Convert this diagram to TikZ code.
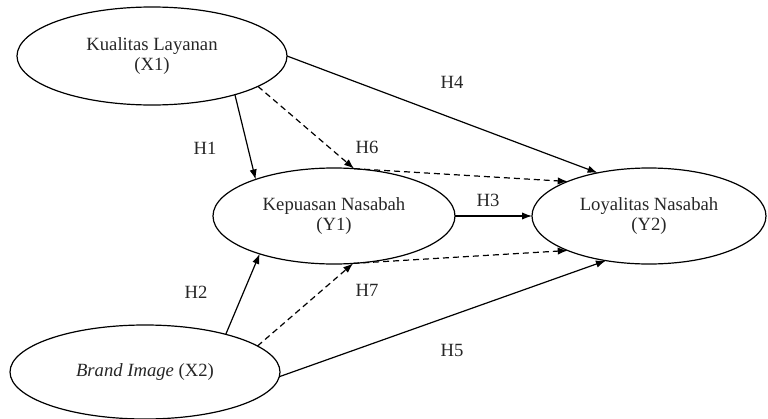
\documentclass[tikz,border=0pt]{standalone}
\usepackage{fontspec}
\setmainfont{Liberation Serif}
\usetikzlibrary{shapes.geometric,arrows.meta}

\tikzset{every picture/.style={line width=0.9pt}}
\tikzset{
  konstruk/.style={draw, ellipse, inner sep=0pt, outer sep=0pt, align=center,
    font=\fontsize{14}{15.5}\selectfont, text=black!85},
  hipotesis/.style={inner sep=0.75pt, font=\fontsize{14}{15.5}\selectfont, text=black!85},
  panah/.style={-{Latex[length=7.5pt,width=5.5pt]}},
  panahputus/.style={panah, dash pattern=on 4.5pt off 3pt}
}

\begin{document}
\begin{tikzpicture}[x=0.75pt,y=0.75pt,yscale=-1,xscale=1]
	\useasboundingbox (0,0) rectangle (768,418);
	
	%Shape: Ellipse
	\node [konstruk, minimum width=202.5pt, minimum height=73.5pt] (kl) at (152,56) {Kualitas Layanan\\(X1)};
	%Shape: Ellipse
	\node [konstruk, minimum width=181.5pt, minimum height=72pt] (kn) at (334,216) {Kepuasan Nasabah\\(Y1)};
	%Shape: Ellipse
	\node [konstruk, minimum width=175.5pt, minimum height=72pt] (ln) at (649,216) {Loyalitas Nasabah\\(Y2)};
	%Shape: Ellipse
	\node [konstruk, minimum width=202.5pt, minimum height=70.5pt] (bi) at (145,372) {\textit{Brand Image} (X2)};
	
	%Straight Lines
	\draw [panah] (kl.-25) -- (kn.155);
	%Straight Lines
	\draw [panah] (kl.east) -- (ln.140);
	%Straight Lines
	\draw [panahputus] (kl.-16) -- (kn.67);
	\draw [panahputus] (kn.67) -- (ln.157);
	%Straight Lines
	\draw [panah] (kn.east) -- (ln.west);
	%Straight Lines
	\draw [panah] (bi.25) -- (kn.207);
	%Straight Lines
	\draw [panahputus] (bi.13) -- (kn.-68);
	\draw [panahputus] (kn.-68) -- (ln.203);
	%Straight Lines
	\draw [panah] (bi.-2) -- (ln.226);
	
	% Text Node
	\node [hipotesis] (h1) at (205,148) {H1};
	% Text Node
	\node [hipotesis] (h2) at (196,292) {H2};
	% Text Node
	\node [hipotesis] (h3) at (488,200) {H3};
	% Text Node
	\node [hipotesis] (h4) at (452,82) {H4};
	% Text Node
	\node [hipotesis] (h5) at (452,350) {H5};
	% Text Node
	\node [hipotesis] (h6) at (367,147) {H6};
	% Text Node
	\node [hipotesis] (h7) at (367,290) {H7};
	
\end{tikzpicture}
\end{document}
